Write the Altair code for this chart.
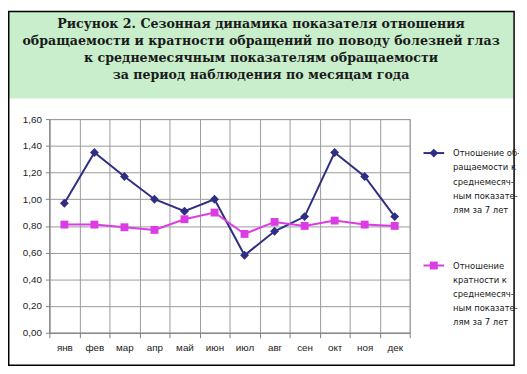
import altair as alt
import pandas as pd

months = ["янв", "фев", "мар", "апр", "май", "июн", "июл", "авг", "сен", "окт", "ноя", "дек"]
ratio_visits = [0.97, 1.35, 1.17, 1.00, 0.91, 1.00, 0.58, 0.76, 0.87, 1.35, 1.17, 0.87]
ratio_freq = [0.81, 0.81, 0.79, 0.77, 0.85, 0.90, 0.74, 0.83, 0.80, 0.84, 0.81, 0.80]
series_names = [
    "Отношение об-|ращаемости к|среднемесяч-|ным показате-|лям за 7 лет",
    "Отношение|кратности к|среднемесяч-|ным показате-|лям за 7 лет",
]
series_colors = ["#2e2e82", "#dc3ce4"]
series_shapes = ["diamond", "square"]
series_sizes = [81, 64]
y_ticks = [0, 0.2, 0.4, 0.6, 0.8, 1.0, 1.2, 1.4, 1.6]
title_lines = [
    "Рисунок 2. Сезонная динамика показателя отношения",
    "обращаемости и кратности обращений по поводу болезней глаз",
    "к среднемесячным показателям обращаемости",
    "за период наблюдения по месяцам года",
]

df = pd.DataFrame({
    "month": months * 2,
    "value": ratio_visits + ratio_freq,
    "series": [series_names[0]] * len(months) + [series_names[1]] * len(months),
})

x = alt.X("month:N", sort=months,
          scale=alt.Scale(paddingInner=0, paddingOuter=0),
          axis=alt.Axis(title=None, tickBand="extent", labelAngle=0, grid=True,
                        gridColor="#9a9a9a", gridWidth=1, domainColor="#808080",
                        tickColor="#808080", tickSize=5, labelPadding=5,
                        labelFont="Liberation Sans", labelFontSize=10, labelColor="#222"))
y = alt.Y("value:Q",
          scale=alt.Scale(domain=[0, 1.6], nice=False, zero=True),
          axis=alt.Axis(title=None, values=y_ticks, grid=True, gridColor="#9a9a9a",
                        labelExpr="replace(format(datum.value, '.2f'), '.', ',')",
                        domainColor="#808080", tickColor="#808080", tickSize=4,
                        labelPadding=4, labelFont="Liberation Sans", labelFontSize=10,
                        labelColor="#222"))
color = alt.Color("series:N", scale=alt.Scale(domain=series_names, range=series_colors), legend=None)

base = alt.Chart(df)

layers = []
frame_df = pd.DataFrame({"k": [0]})
banner = alt.Chart(frame_df).mark_rect(fill="#c8eecc").encode(
    x=alt.value(-41.5), x2=alt.value(472), y=alt.value(-109.5), y2=alt.value(-21))
border = alt.Chart(frame_df).mark_rect(fill=None, stroke="black", strokeWidth=1.5).encode(
    x=alt.value(-41.25), x2=alt.value(472), y=alt.value(-109.25), y2=alt.value(250))
title = alt.Chart(frame_df).mark_text(
    text=title_lines, font="DejaVu Serif", fontSize=12.8, fontWeight="bold", color="#1a1a1a",
    lineHeight=17.5, align="center", baseline="alphabetic").encode(
    x=alt.value(215), y=alt.value(-93))
layers += [banner, border, title]

layers.append(base.mark_line(strokeWidth=2).encode(x=x, y=y, color=color))
for name, shp, sz in zip(series_names, series_shapes, series_sizes):
    layers.append(base.transform_filter(alt.datum.series == name).mark_point(
        shape=shp, filled=True, size=sz, opacity=1).encode(x=x, y=y, color=color))

# legend (drawn as a block to the right of the plot, Excel style)
legend_df = pd.DataFrame({"series": series_names})
legend_rows = [34.5, 148.7]
for name, col, shp, sz, ly in zip(series_names, series_colors, series_shapes, series_sizes, legend_rows):
    ld = alt.Chart(legend_df).transform_filter(alt.datum.series == name)
    layers.append(ld.mark_rule(color=col, strokeWidth=2).encode(
        x=alt.value(380), x2=alt.value(401), y=alt.value(ly)))
    layers.append(ld.mark_point(shape=shp, filled=True, size=sz, opacity=1, color=col).encode(
        x=alt.value(390.5), y=alt.value(ly)))
    layers.append(ld.mark_text(
        align="left", baseline="alphabetic", lineBreak="|", lineHeight=14.3,
        font="Liberation Sans Narrow, DejaVu Sans Condensed, Liberation Sans", fontSize=9.5,
        color="#1a1a1a").encode(
        x=alt.value(410), y=alt.value(ly + 3.4), text="series:N"))

chart = alt.layer(*layers).properties(
    width=366, height=217,
    padding={"left": 42, "top": 110, "right": 111, "bottom": 35},
    autosize=alt.AutoSizeParams(type="none"),
    background="white",
).configure_view(stroke="#9a9a9a", strokeWidth=1)

chart.save("out.html", embed_options={"renderer": "svg", "actions": False})
